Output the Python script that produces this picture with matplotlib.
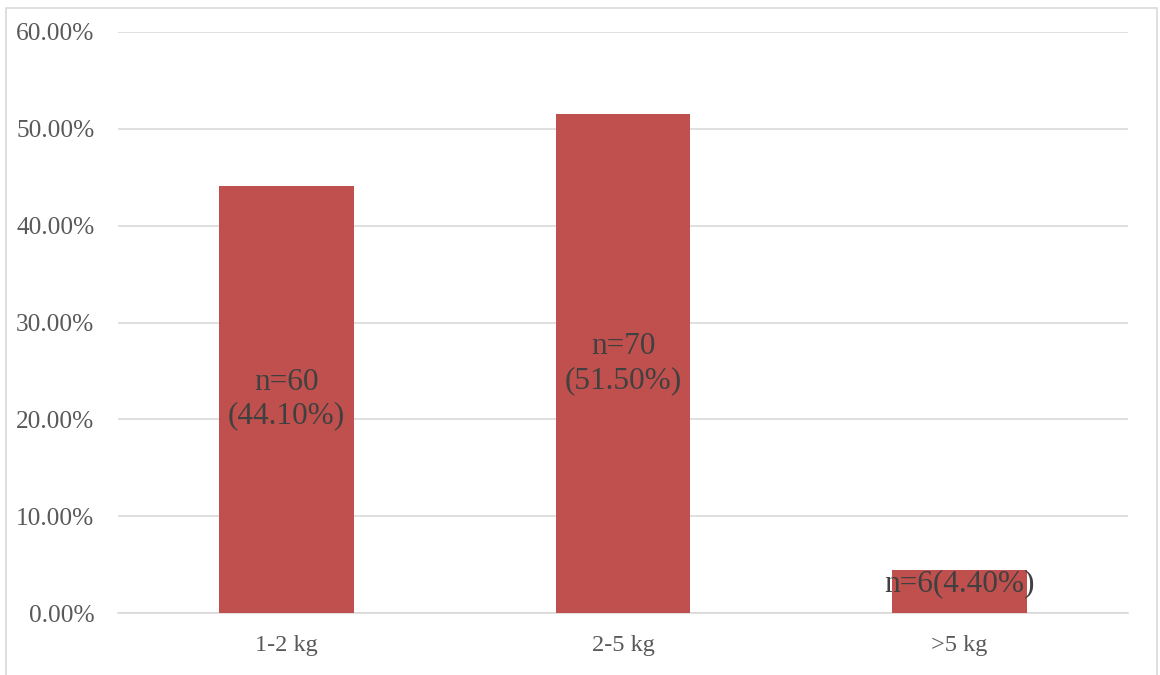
import matplotlib.pyplot as plt
from matplotlib.patches import Rectangle
from matplotlib.ticker import PercentFormatter

categories = ['1-2 kg', '2-5 kg', '>5 kg']
percent = [44.10, 51.50, 4.40]
counts = [60, 70, 6]
yticks = [0, 10, 20, 30, 40, 50, 60]

plt.rcParams['font.family'] = ['Liberation Serif', 'DejaVu Serif']

fig = plt.figure(figsize=(11.6, 6.75), dpi=100)
ax = fig.add_axes([118 / 1160, 1 - 613 / 675, 1010 / 1160, 581 / 675])

# outer chart frame
fig.patches.append(Rectangle((6 / 1160, -0.05), 1151 / 1160, 1.05 - 8 / 675,
                             transform=fig.transFigure, fill=False,
                             edgecolor='#D9D9D9', linewidth=1.2))

x = range(len(categories))
bars = ax.bar(x, percent, width=0.4, color='#C0504D', zorder=3)

# data labels in the middle of each bar
for b, p, n in zip(bars, percent, counts):
    if p > 10:
        txt = f'n={n}\n({p:.2f}%)'
    else:
        txt = f'n={n}({p:.2f}%)'
    ax.text(b.get_x() + b.get_width() / 2, p / 2 + (0.8 if p < 10 else 0), txt,
            ha='center', va='center', fontsize=22.5, color='#404040',
            linespacing=1.2, zorder=4)

ax.set_xlim(-0.5, 2.5)
ax.set_ylim(0, 60)
ax.set_yticks(yticks)
ax.yaxis.set_major_formatter(PercentFormatter(decimals=2))
ax.set_xticks(list(x))
ax.set_xticklabels(categories)
ax.grid(axis='y', color='#D9D9D9', linewidth=1.2, zorder=0)
for s in ['top', 'right', 'left']:
    ax.spines[s].set_visible(False)
ax.spines['bottom'].set_color('#D9D9D9')
ax.spines['bottom'].set_linewidth(1.2)
ax.tick_params(axis='both', length=0, labelcolor='#595959')
ax.tick_params(axis='y', pad=17, labelsize=18.3)
ax.tick_params(axis='x', pad=16, labelsize=17.5)

plt.savefig('out.png', dpi=100)
